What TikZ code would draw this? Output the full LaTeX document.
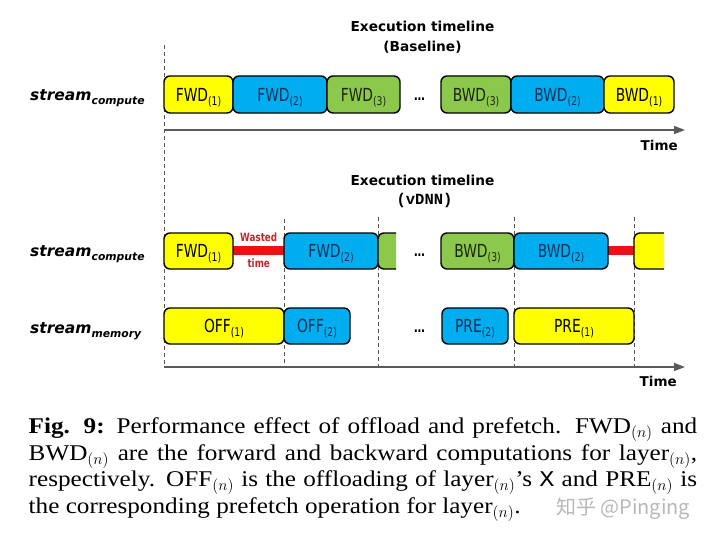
\RequirePackage{fix-cm}
\documentclass[tikz,border=0pt]{standalone}
\usepackage{fontspec}
\setmainfont[FakeStretch=1.12]{Liberation Serif}
\newfontfamily\capmono[FakeStretch=1.12]{Liberation Mono}
\newfontfamily\dvs[BoldFont={DejaVu Sans Bold},ItalicFont={DejaVu Sans Oblique},BoldItalicFont={DejaVu Sans Bold Oblique}]{DejaVu Sans}
\newfontfamily\dvsn[FakeStretch=0.77,BoldFont={DejaVu Sans Bold}]{DejaVu Sans}
\newfontfamily\monob{Liberation Mono}
\newfontfamily\cjkf{Noto Sans CJK SC}
\usetikzlibrary{arrows.meta}
\definecolor{cyel}{HTML}{FFFF00}
\definecolor{cblu}{HTML}{00AEEF}
\definecolor{cgrn}{HTML}{8CC84B}
\definecolor{cnavy}{HTML}{172D58}
\definecolor{cdk}{HTML}{1A2410}
\definecolor{cred}{HTML}{EE1111}
\definecolor{cwaste}{HTML}{C0282D}
\definecolor{caxis}{HTML}{5A5A5A}
\definecolor{cdash}{HTML}{555555}
\newcommand\lbl[2]{\dvsn\fontsize{18}{18}\selectfont #1\raisebox{-4.4pt}{\fontsize{12}{12}\selectfont(#2)}}
\newcommand\tb[9]{%
  \node[tbox, fill=#5, text=#6, minimum width={#3pt-#2pt}, minimum height=#9pt] (#1) at ({(#2+#3)/2},#4) {\lbl{#7}{#8}};}
\newcommand\capline[1]{\makebox[668.5pt][s]{#1}}
\tikzset{
  tbox/.style={draw=black, line width=1.4pt, rounded corners=6pt, inner sep=0pt,
    text height=13pt, text depth=0pt},
  dline/.style={draw=cdash, line width=0.9pt, dash pattern=on 4pt off 3pt},
  axisline/.style={draw=caxis, line width=1.4pt, -{Triangle[length=11pt,width=8pt]}},
  titlef/.style={font=\dvs\bfseries\fontsize{13.7}{13.7}\selectfont, inner sep=0pt},
  timef/.style={font=\dvs\bfseries\fontsize{13.5}{13.5}\selectfont, inner sep=0pt},
  dotsf/.style={font=\dvsn\bfseries\fontsize{14}{14}\selectfont, inner sep=0pt, anchor=base},
  streamf/.style={font=\dvs\bfseries\itshape\fontsize{15.5}{15.5}\selectfont, inner sep=0pt, anchor=base west},
  wastef/.style={font=\dvsn\bfseries\fontsize{11.4}{11.4}\selectfont, text=cwaste, inner sep=0pt, anchor=base},
  capf/.style={font=\fontsize{22.5}{27}\selectfont, inner sep=0pt, anchor=base west},
}
\begin{document}
\begin{tikzpicture}[x=1pt,y=-1pt]
\useasboundingbox[fill=white] (0,0) rectangle (720,535);

% titles
\node[titlef, anchor=base] (t1a) at (422.5,32) {Execution timeline};
\node[titlef, anchor=base] (t1b) at (422.5,52) {(Baseline)};
\node[titlef, anchor=base] (t2a) at (422.5,185) {Execution timeline};
\node[inner sep=0pt, anchor=base, font=\monob\bfseries\fontsize{15.5}{15.5}\selectfont] (t2b) at (424.5,204) {(vDNN)};

% dashed guide lines
\coordinate (d0a) at (164,45);  \coordinate (d0b) at (164,367);
\coordinate (d1a) at (284,219); \coordinate (d1b) at (284,367);
\coordinate (d2a) at (378,217); \coordinate (d2b) at (378,367);
\coordinate (d3a) at (514,217); \coordinate (d3b) at (514,367);
\coordinate (d4a) at (634,217); \coordinate (d4b) at (634,367);
\foreach \i in {0,...,4} {\draw[dline] (d\i a) -- (d\i b);}

% axes
\coordinate (ax1a) at (164,130); \coordinate (ax1b) at (685,130);
\coordinate (ax2a) at (164,367); \coordinate (ax2b) at (685,367);
\draw[axisline] (ax1a) -- (ax1b);
\draw[axisline] (ax2a) -- (ax2b);
\node[timef, anchor=base east] (time1) at (678,150) {Time};
\node[timef, anchor=base east] (time2) at (677,386.5) {Time};

% stream labels
\node[streamf] (s1) at (30,100.7) {stream\raisebox{-4.2pt}{\fontsize{10.8}{10.8}\selectfont compute}};
\node[streamf] (s2) at (30,256) {stream\raisebox{-4.2pt}{\fontsize{10.8}{10.8}\selectfont compute}};
\node[streamf] (s3) at (30,333.3) {stream\raisebox{-4.2pt}{\fontsize{10.8}{10.8}\selectfont memory}};

% baseline row
\tb{f1}{164}{233}{94.5}{cyel}{black}{FWD}{1}{37}
\tb{f2}{233}{327}{94.5}{cblu}{cnavy}{FWD}{2}{37}
\tb{f3}{327}{400}{94.5}{cgrn}{cdk}{FWD}{3}{37}
\node[dotsf] (e1) at (419.5,100) {…};
\tb{b3}{441}{511}{94.5}{cgrn}{cdk}{BWD}{3}{37}
\tb{b2}{511}{604}{94.5}{cblu}{cnavy}{BWD}{2}{37}
\tb{b1}{604}{674}{94.5}{cyel}{black}{BWD}{1}{37}

% vDNN compute row
\fill[cred] (233,246) rectangle (285,255);
\fill[cred] (607,246) rectangle (635,255);
\node[wastef] (w1) at (258.7,241) {Wasted};
\node[wastef] (w2) at (258.7,267.3) {time};
\tb{vf1}{164}{233}{251}{cyel}{black}{FWD}{1}{36}
\tb{vf2}{284}{378}{251}{cblu}{cnavy}{FWD}{2}{36}
\begin{scope}
  \clip (370,220) rectangle (396,282);
  \node[tbox, fill=cgrn, minimum width=40pt, minimum height=36pt] (vg) at (398,251) {};
\end{scope}
\node[dotsf] (e2) at (419.5,256.5) {…};
\tb{vb3}{441}{514}{251}{cgrn}{cdk}{BWD}{3}{36}
\tb{vb2}{514}{608}{251}{cblu}{cnavy}{BWD}{2}{36}
\begin{scope}
  \clip (626,220) rectangle (664,282);
  \node[tbox, fill=cyel, minimum width=50pt, minimum height=36pt] (vy) at (659,251) {};
\end{scope}

% memory row
\tb{o1}{164}{284}{326}{cyel}{black}{OFF}{1}{36}
\tb{o2}{284}{350}{326}{cblu}{cnavy}{OFF}{2}{36}
\node[dotsf] (e3) at (419.5,332) {…};
\tb{p2}{442}{508}{326}{cblu}{cnavy}{PRE}{2}{36}
\tb{p1}{514}{634}{326}{cyel}{black}{PRE}{1}{36}

% caption
\node[capf] (c1) at (28.5,433.5) {\capline{\textbf{Fig. 9:} Performance effect of offload and prefetch. FWD$_{(n)}$ and}};
\node[capf] (c2) at (28.5,460) {\capline{BWD$_{(n)}$ are the forward and backward computations for layer$_{(n)}$,}};
\node[capf] (c3) at (28.5,486.7) {\capline{respectively. OFF$_{(n)}$ is the offloading of layer$_{(n)}$'s {\capmono X} and PRE$_{(n)}$ is}};
\node[capf] (c4) at (28.5,513) {the corresponding prefetch operation for layer$_{(n)}$.};

% watermark
\node[inner sep=0pt, anchor=base west, text=black!28, font=\cjkf\fontsize{20}{20}\selectfont] (wm) at (556,514) {知乎 @Pinging};
\end{tikzpicture}
\end{document}
